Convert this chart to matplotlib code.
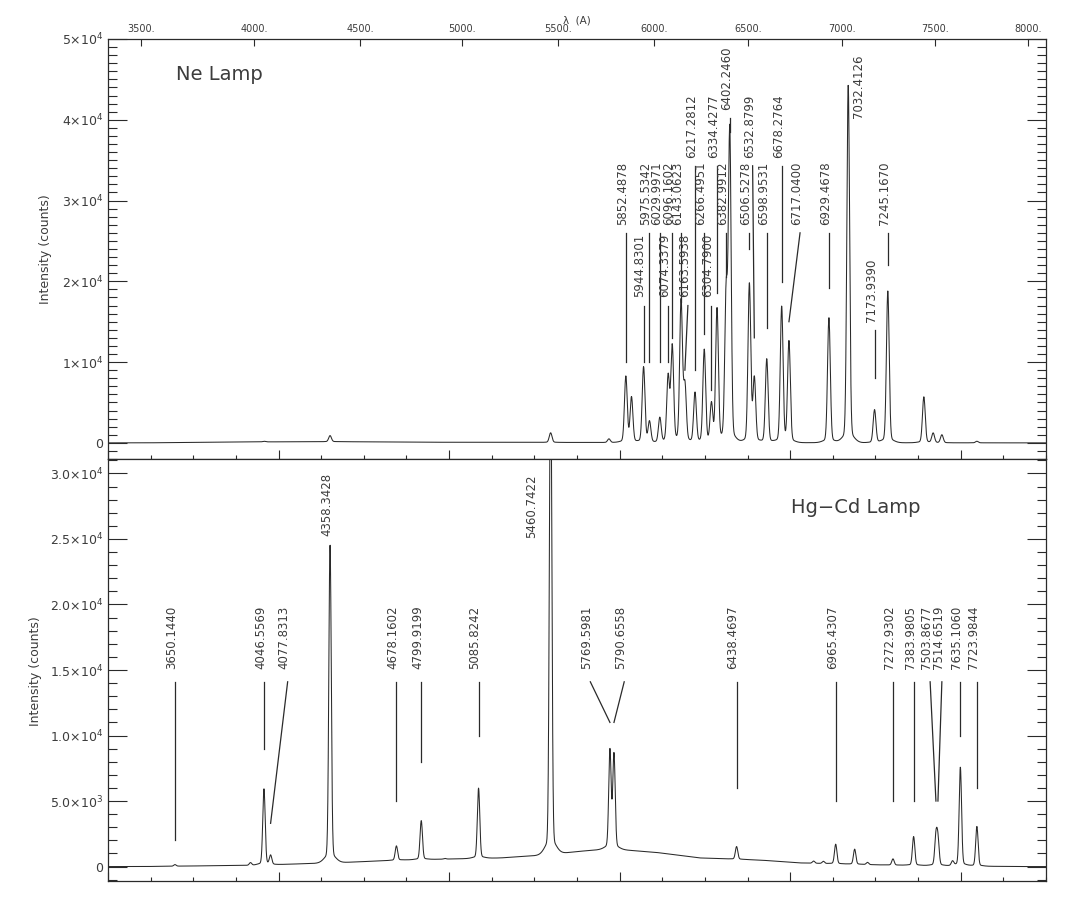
import numpy as np
import matplotlib
matplotlib.use("Agg")
import matplotlib.pyplot as plt
from matplotlib.ticker import FixedLocator, FixedFormatter, MultipleLocator

plt.rcParams['font.family'] = ['DejaVu Sans']
plt.rcParams['mathtext.default'] = 'regular'

TXT = '#3c3c3c'
INK = '#2a2a2a'

# wavelength calibration (tick wavelength -> detector pixel)
cal_wave = [3500, 4000, 4500, 5000, 5500, 6000, 6500, 7000, 7500, 8000]
cal_pix = [38.7, 171.3, 295.6, 415.2, 527.9, 640.5, 750.7, 861.0, 970.1, 1079.2]

# --- Ne lamp: labelled lines ---
ne_wave = [5852.4878, 5944.8301, 5975.5342, 6029.9971, 6074.3379, 6096.1602,
           6143.0623, 6163.5938, 6217.2812, 6266.4951, 6304.7900, 6334.4277,
           6382.9912, 6402.2460, 6506.5278, 6532.8799, 6598.9531, 6678.2764,
           6717.0400, 6929.4678, 7032.4126, 7173.9390, 7245.1670]
ne_peak = [8200, 9400, 2600, 3100, 8200, 11900,
           17500, 7000, 6200, 11500, 4700, 16500,
           18100, 38500, 19700, 7900, 10400, 16800,
           12500, 15500, 44300, 4100, 18800]
ne_text_y = [27000, 18000, 27000, 27000, 18000, 27000,
             27000, 18000, 35300, 27000, 18000, 35300,
             27000, 41200, 27000, 35300, 27000, 35300,
             27000, 27000, 40200, 15000, 27000]
ne_line_lo = [10000, 10000, 10000, 10000, 10000, 13000,
              17500, 9000, 9000, 13500, 6500, 18500,
              20500, 38500, 24000, 13000, 14200, 19900,
              15000, 19200, np.nan, 8000, 22000]
ne_shift = [0, 0, 0, 0, 0, 0,
            0, 3.5, 0, 0, 0, 0,
            0, 0, 0, -2, 0, 0,
            13, 0, 16, 0, 0]
# Ne lamp: unlabelled features
ne_other_wave = [4046.56, 4358.34, 5460.74, 5764.42, 5881.90, 7438.90, 7488.87, 7535.77, 7724.0]
ne_other_peak = [200, 900, 1250, 500, 5600, 5700, 1200, 1000, 200]
ne_cont_wave = [3500, 4000, 4400, 4800, 5400, 6000, 7000, 8000]
ne_cont_val = [0, 120, 150, 80, 60, 40, 20, 0]

# --- Hg-Cd lamp: labelled lines ---
hg_wave = [3650.1440, 4046.5569, 4077.8313, 4358.3428, 4678.1602, 4799.9199,
           5085.8242, 5460.7422, 5769.5981, 5790.6558, 6438.4697, 6965.4307,
           7272.9302, 7383.9805, 7503.8677, 7514.6519, 7635.1060, 7723.9844]
hg_peak = [150, 5940, 820, 24600, 1580, 3510,
           5990, 40000, 8860, 8530, 1530, 1710,
           590, 2290, 2250, 2000, 7590, 3060]
hg_text_y = [15100, 15100, 15100, 25200, 15100, 15100,
             15100, 25100, 15100, 15100, 15100, 15100,
             15100, 15100, 15100, 15100, 15100, 15100]
hg_line_lo = [2000, 9000, 3300, np.nan, 5000, 8000,
              10000, np.nan, 11000, 11000, 6000, 5000,
              5000, 5000, 5000, 5000, 10000, 6000]
hg_shift = [0, 0, 20, 0, 0, 0,
            0, -18.5, -23, 12, 0, 0,
            0, 0, -6.8, 4.6, 0, 0]
# Hg-Cd lamp: unlabelled features
hg_other_wave = [3984.0, 4916.0, 6848.0, 6900.0, 7067.0, 7136.0, 7593.0]
hg_other_peak = [300, 620, 420, 400, 1330, 320, 380]
hg_cont_wave = [3500, 4000, 4400, 4700, 5200, 5450, 5600, 5770, 6000, 6240, 6560, 6770, 7200, 7700, 8000]
hg_cont_val = [0, 100, 300, 500, 660, 900, 1150, 1350, 1100, 660, 500, 280, 130, 30, 0]

# axis tick labels
ne_yticks = [0, 10000, 20000, 30000, 40000, 50000]
ne_ylabels = ['0', '1×10$^4$', '2×10$^4$', '3×10$^4$', '4×10$^4$', '5×10$^4$']
hg_yticks = [0, 5000, 10000, 15000, 20000, 25000, 30000]
hg_ylabels = ['0', '5.0×10$^3$', '1.0×10$^4$', '1.5×10$^4$', '2.0×10$^4$',
              '2.5×10$^4$', '3.0×10$^4$']

GAP = 1000
px = np.arange(0, 1100.01, 0.25)


def w2p(w):
    return np.interp(w, cal_wave, cal_pix)


def build(waves, peaks, cont_w, cont_v, sig):
    xc = w2p(np.array(cont_w, float))
    y = np.interp(px, xc, cont_v)
    for w, h in zip(waves, peaks):
        p = w2p(w)
        a = h - np.interp(p, xc, cont_v)
        y = y + a * (0.97 * np.exp(-0.5 * ((px - p) / sig) ** 2)
                     + 0.03 * np.exp(-0.5 * ((px - p) / 6.0) ** 2))
    return y


def label_lines(ax, waves, text_y, line_lo, shift):
    for w, ty, lo, s in zip(waves, text_y, line_lo, shift):
        p = w2p(w)
        xl = p + s
        ax.annotate(f"{w:.4f}", xy=(xl, ty), xytext=(-2.5, 0), textcoords='offset points',
                    rotation=90, ha='center', va='bottom', fontsize=8.5, color=TXT)
        if not np.isnan(lo):
            ax.plot([xl, p], [ty - GAP, lo], color=INK, lw=0.9)


def style(ax, major, minor):
    ax.set_xlim(0, 1100)
    ax.xaxis.set_major_locator(MultipleLocator(200))
    ax.xaxis.set_minor_locator(MultipleLocator(50))
    ax.tick_params(axis='x', which='major', direction='in', length=6.5, width=0.8,
                   bottom=True, top=False, labelbottom=False, color=INK)
    ax.tick_params(axis='x', which='minor', direction='in', length=3.2, width=0.8,
                   bottom=True, top=False, color=INK)
    ax.yaxis.set_major_locator(FixedLocator(major[0]))
    ax.yaxis.set_major_formatter(FixedFormatter(major[1]))
    ax.yaxis.set_minor_locator(MultipleLocator(minor))
    ax.tick_params(axis='y', which='major', direction='in', length=13.7, width=0.8,
                   left=True, right=True, labelsize=9, labelcolor=TXT, pad=3.5, color=INK)
    ax.tick_params(axis='y', which='minor', direction='in', length=6.7, width=0.8,
                   left=True, right=True, color=INK)
    for sp in ax.spines.values():
        sp.set_linewidth(0.9)
        sp.set_color(INK)
    ax.set_ylabel('Intensity (counts)', fontsize=9, color=TXT)


fig = plt.figure(figsize=(10.76, 9.02), dpi=100)
ax1 = fig.add_axes([0.1004, 0.4911, 0.8717, 0.4657])
ax2 = fig.add_axes([0.1004, 0.0233, 0.8717, 0.4678])

# top panel: Ne lamp
ne_y = build(ne_wave + ne_other_wave, ne_peak + ne_other_peak, ne_cont_wave, ne_cont_val, 1.6)
label_lines(ax1, ne_wave, ne_text_y, ne_line_lo, ne_shift)
ax1.plot(px, ne_y, color=INK, lw=0.75)
style(ax1, (ne_yticks, ne_ylabels), 1000)
ax1.set_ylim(-2000, 50000)
ax1.yaxis.set_label_coords(-0.0597, 0.5)
ax1.text(0.0725, 0.902, 'Ne Lamp', transform=ax1.transAxes, fontsize=14,
         color=TXT, va='baseline')

# wavelength scale on top
axt = ax1.twiny()
axt.set_xlim(ax1.get_xlim())
axt.set_xticks(cal_pix)
axt.set_xticklabels([f"{w}." for w in cal_wave])
axt.tick_params(axis='x', direction='in', length=5.3, width=0.8, labelsize=7,
                labelcolor=TXT, pad=3.5, color=INK)
for sp in axt.spines.values():
    sp.set_visible(False)
fig.text(0.523, 0.9735, 'λ  (A)', fontsize=7.5, color=TXT, va='baseline')

# bottom panel: Hg-Cd lamp
hg_y = build(hg_wave + hg_other_wave, hg_peak + hg_other_peak, hg_cont_wave, hg_cont_val, 1.4)
label_lines(ax2, hg_wave, hg_text_y, hg_line_lo, hg_shift)
ax2.plot(px, hg_y, color=INK, lw=0.75)
style(ax2, (hg_yticks, hg_ylabels), 1000)
ax2.set_ylim(-1100, 31100)
ax2.yaxis.set_label_coords(-0.0704, 0.498)
ax2.text(0.728, 0.871, 'Hg−Cd Lamp', transform=ax2.transAxes, fontsize=14,
         color=TXT, va='baseline')

fig.savefig('out.png', dpi=100)
